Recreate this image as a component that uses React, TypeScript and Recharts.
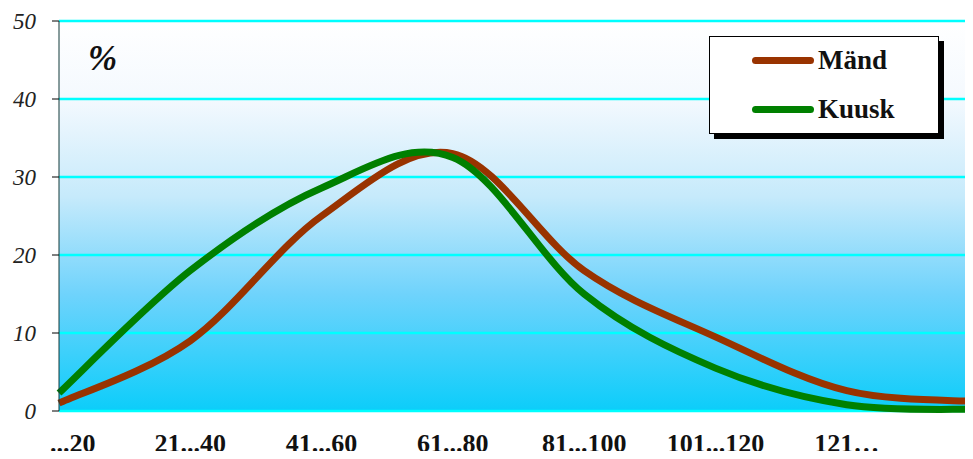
import * as React from 'react';
import { CartesianGrid, Line, LineChart, XAxis, YAxis } from 'recharts';

const categories = ['...20', '21...40', '41...60', '61...80', '81...100', '101...120', '121…', ''];
const mand = [1, 9, 25, 33, 18, 9.5, 2.6, 1.2];
const kuusk = [2.3, 18, 28.6, 32.5, 15, 5.5, 0.8, 0.2];
const yTicks = [0, 10, 20, 30, 40, 50];

const series = [
  { key: 'mand', name: 'Mänd', color: '#993300' },
  { key: 'kuusk', name: 'Kuusk', color: '#008000' },
];

const data = categories.map((cat, i) => ({ cat, mand: mand[i], kuusk: kuusk[i] }));

const serif = '"Liberation Serif", "Times New Roman", serif';

// smoothed line like the spreadsheet one (catmull-rom style beziers)
const smoothCurve = (ctx: any) => {
  let pts: number[][] = [];
  return {
    areaStart() {},
    areaEnd() {},
    lineStart() {
      pts = [];
    },
    point(x: number, y: number) {
      pts.push([+x, +y]);
    },
    lineEnd() {
      if (!pts.length) return;
      ctx.moveTo(pts[0][0], pts[0][1]);
      for (let i = 0; i < pts.length - 1; i++) {
        const p0 = pts[i - 1] || pts[i];
        const p1 = pts[i];
        const p2 = pts[i + 1];
        const p3 = pts[i + 2] || p2;
        ctx.bezierCurveTo(
          p1[0] + (p2[0] - p0[0]) / 6,
          p1[1] + (p2[1] - p0[1]) / 6,
          p2[0] - (p3[0] - p1[0]) / 6,
          p2[1] - (p3[1] - p1[1]) / 6,
          p2[0],
          p2[1],
        );
      }
    },
  };
};

const XTick = ({ x, y, payload, index }: { x: number; y: number; payload: { value: string }; index: number }) => (
  <text
    x={index === 0 ? x - 9 : x}
    y={y + 39}
    textAnchor={index === 0 ? 'start' : 'middle'}
    fill="#111"
    style={{ fontFamily: serif, fontWeight: 'bold', fontSize: 26 }}
  >
    {payload.value}
  </text>
);

export default function App() {
  return (
    <div style={{ position: 'relative', width: 973, height: 459, overflow: 'hidden', margin: -8, background: '#fff' }}>
      <LineChart width={990} height={459} data={data} margin={{ top: 21, right: 12, bottom: 0, left: 0 }}>
        <defs>
          <linearGradient id="bg" x1="0" y1="0" x2="0" y2="1">
            <stop offset="0%" stopColor="#ffffff" />
            <stop offset="20%" stopColor="#f4f9fe" />
            <stop offset="45%" stopColor="#c6eafb" />
            <stop offset="70%" stopColor="#6fd3fc" />
            <stop offset="100%" stopColor="#0ccdfa" />
          </linearGradient>
        </defs>
        <CartesianGrid vertical={false} stroke="#00ffff" strokeWidth={2.5} fill="url(#bg)" fillOpacity={1} />
        <XAxis
          dataKey="cat"
          height={48}
          interval={0}
          axisLine={false}
          tickLine={false}
          tickSize={0}
          tick={XTick}
        />
        <YAxis
          width={59}
          domain={[0, 50]}
          ticks={yTicks}
          tickSize={7}
          tickMargin={16}
          axisLine={{ stroke: '#103838' }}
          tickLine={{ stroke: '#000' }}
          tick={{ fill: '#222', fontSize: 23, fontStyle: 'italic', fontFamily: serif }}
        />
        {series.map(s => (
          <Line
            key={s.key}
            type={smoothCurve as any}
            dataKey={s.key}
            name={s.name}
            stroke={s.color}
            strokeWidth={7}
            dot={false}
            activeDot={false}
            isAnimationActive={false}
          />
        ))}
      </LineChart>
      <div
        style={{
          position: 'absolute',
          left: 88,
          top: 41,
          fontFamily: serif,
          fontWeight: 'bold',
          fontStyle: 'italic',
          fontSize: 35,
          lineHeight: 1,
          color: '#111',
        }}
      >
        %
      </div>
      <div
        style={{
          position: 'absolute',
          left: 709,
          top: 36,
          width: 228,
          height: 96,
          background: '#fff',
          border: '1px solid #000',
          boxShadow: '5px 5px 0 #000',
        }}
      >
        {series.map((s, i) => (
          <div
            key={s.key}
            style={{ position: 'absolute', left: 42, top: 8 + i * 49, display: 'flex', alignItems: 'center', height: 30 }}
          >
            <div style={{ width: 62, height: 7, borderRadius: 4, background: s.color }} />
            <span
              style={{ marginLeft: 4, fontFamily: serif, fontWeight: 'bold', fontSize: 27, lineHeight: 1, color: '#111' }}
            >
              {s.name}
            </span>
          </div>
        ))}
      </div>
    </div>
  );
}
